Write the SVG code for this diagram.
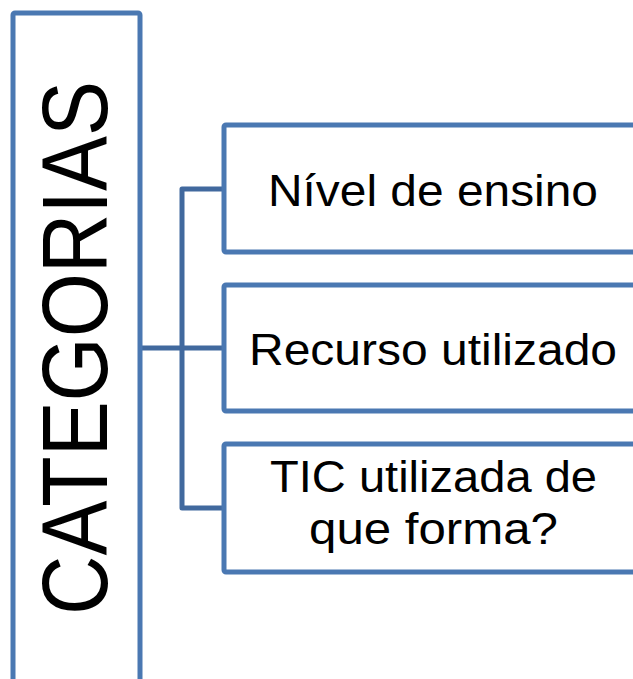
<svg xmlns="http://www.w3.org/2000/svg" width="633" height="679" viewBox="0 0 633 679">
<style>
.box{fill:#ffffff;stroke:#4a78b2;stroke-width:5}
.conn{fill:none;stroke:#41699e;stroke-width:5;stroke-linejoin:round}
.lbl{font-family:"Liberation Sans",Arial,sans-serif;font-size:45px;fill:#000000;text-anchor:middle}
.big{font-family:"Liberation Sans",Arial,sans-serif;font-size:92px;fill:#000000;text-anchor:middle}
</style>
<rect width="633" height="679" fill="#ffffff"/>
<g id="connectors">
<path class="conn" d="M140 348 H182"/>
<path class="conn" d="M224 189 H182 V508 H224"/>
<path class="conn" d="M182 348 H224"/>
</g>
<g id="categorias">
<rect class="box" x="13" y="13" width="127" height="680" rx="2"/>
<text class="big" transform="translate(107,348) rotate(-90)" x="0" y="0" textLength="534" lengthAdjust="spacingAndGlyphs">CATEGORIAS</text>
</g>
<g id="nivel">
<rect class="box" x="224" y="125" width="420" height="127" rx="2"/>
<text class="lbl" x="433" y="206" textLength="330" lengthAdjust="spacingAndGlyphs">Nível de ensino</text>
</g>
<g id="recurso">
<rect class="box" x="224" y="285" width="420" height="126" rx="2"/>
<text class="lbl" x="433" y="365" textLength="368" lengthAdjust="spacingAndGlyphs">Recurso utilizado</text>
</g>
<g id="tic">
<rect class="box" x="224" y="444" width="420" height="128" rx="2"/>
<text class="lbl" x="433.5" y="492" textLength="327" lengthAdjust="spacingAndGlyphs">TIC utilizada de</text>
<text class="lbl" x="433.5" y="544" textLength="249" lengthAdjust="spacingAndGlyphs">que forma?</text>
</g>
</svg>
